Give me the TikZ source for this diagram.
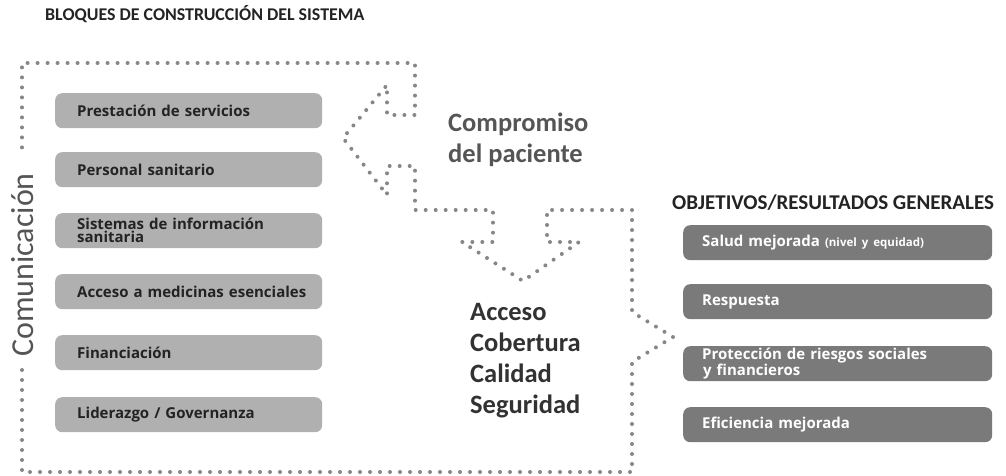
\documentclass[tikz,border=0pt]{standalone}
\usepackage{fontspec}
\setmainfont{Carlito}
\newfontfamily\boxfont{Open Sans}
\definecolor{dotc}{RGB}{135,135,135}
\definecolor{lfill}{RGB}{176,176,176}
\definecolor{rfill}{RGB}{122,122,122}
\definecolor{txtd}{RGB}{35,35,35}
\definecolor{txtm}{RGB}{85,85,85}
\definecolor{txtk}{RGB}{50,50,50}
\begin{document}
\begin{tikzpicture}[x=1pt,y=-1pt,
  lbox/.style={fill=lfill, rounded corners=7pt, minimum height=35pt,
    anchor=north west, inner xsep=22pt, inner ysep=0pt, text width=223pt,
    align=left, font=\boxfont\bfseries\fontsize{15}{13}\selectfont, text=txtd},
  rbox/.style={fill=rfill, rounded corners=7pt, minimum height=35pt,
    anchor=north west, inner xsep=19pt, inner ysep=0pt, text width=271pt,
    align=left, font=\boxfont\bfseries\fontsize{15}{13}\selectfont, text=white},
  dotline/.style={draw=dotc, line width=4pt, line cap=round, dash pattern=on 0pt off 10pt},
  big/.style={font=\bfseries\fontsize{26.5}{31}\selectfont, inner sep=0pt, align=left},
  heading/.style={font=\bfseries, inner sep=0pt, text=txtd, anchor=west}
]
\useasboundingbox (0,0) rectangle (1006,476);

% headings
\node[heading, font=\bfseries\fontsize{17.9}{20}\selectfont] (title) at (45,14) {BLOQUES DE CONSTRUCCIÓN DEL SISTEMA};
\node[heading, font=\bfseries\fontsize{21}{24}\selectfont] (obj) at (672,203) {OBJETIVOS/RESULTADOS GENERALES};

% dotted outline with the two arrows and the tip
\draw[dotline] (22,370) -- (22,472) -- (632,472) -- (632,362) -- (673,337) -- (632,312)
  -- (632,210) -- (547,210) -- (547,242) -- (579,242) -- (523,281) -- (462,242)
  -- (493,242) -- (493,210) -- (415,210) -- (415,166) -- (387,166) -- (387,195)
  -- (343,138) -- (387,85) -- (387,115) -- (415,115) -- (415,63) -- (22,63) -- (22,150);

% vertical label
\node[rotate=90, anchor=base, inner sep=0pt, text=txtm, font=\fontsize{32}{36}\selectfont] (com) at (33,265) {Comunicación};

% left building blocks
\node[lbox] (b1) at (55,93) {Prestación de servicios};
\node[lbox] (b2) at (55,152) {Personal sanitario};
\node[lbox] (b3) at (55,213) {Sistemas de información\\sanitaria};
\node[lbox] (b4) at (55,274) {\mbox{Acceso a medicinas esenciales}};
\node[lbox] (b5) at (55,335) {Financiación};
\node[lbox] (b6) at (55,397) {Liderazgo / Governanza};

% middle labels
\node[big, text=txtm, anchor=base west] (comp) at (448,162) {Compromiso\\del paciente};
\node[big, text=txtk, anchor=base west] (acc) at (470,413) {Acceso\\Cobertura\\Calidad\\Seguridad};

% right objectives
\node[rbox] (r1) at (683,225) {Salud mejorada {\fontsize{11.5}{13}\selectfont(nivel y equidad)}};
\node[rbox] (r2) at (683,284) {Respuesta};
\node[rbox] (r3) at (683,346) {Protección de riesgos sociales\\\hspace*{1pt}y financieros};
\node[rbox] (r4) at (683,407) {Eficiencia mejorada};
\end{tikzpicture}
\end{document}
